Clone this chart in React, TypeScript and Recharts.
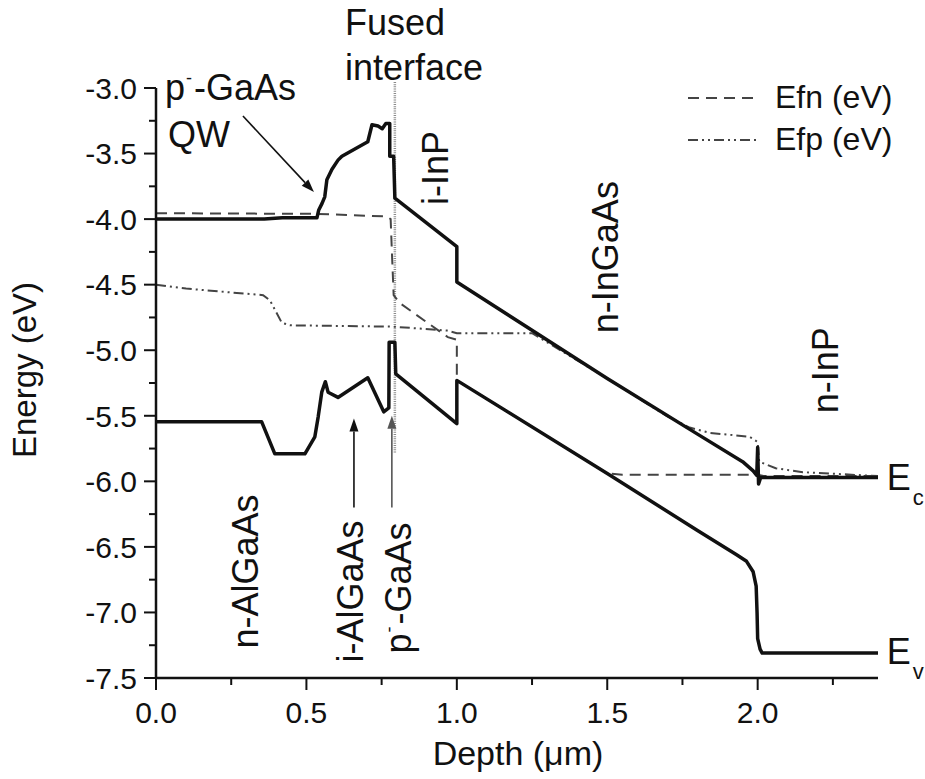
import React from 'react';
import {
  LineChart,
  Line,
  XAxis,
  YAxis,
  ReferenceLine,
  ReferenceDot,
  Legend,
} from 'recharts';

// band edges and quasi-Fermi levels, [depth (um), energy (eV)]
const ecBand: [number, number][] = [
  [0, -4.0], [0.36, -4.0], [0.42, -3.99], [0.535, -3.99], [0.541, -3.93],
  [0.552, -3.88], [0.561, -3.83], [0.568, -3.7], [0.585, -3.62], [0.605, -3.55],
  [0.618, -3.52], [0.704, -3.41], [0.718, -3.28], [0.738, -3.29], [0.752, -3.31],
  [0.764, -3.27], [0.777, -3.27], [0.777, -3.52], [0.79, -3.52], [0.794, -3.84],
  [1.0, -4.21], [1.0, -4.48], [1.5, -5.215], [1.8, -5.64], [1.95, -5.85],
  [1.985, -5.92], [1.997, -5.955], [2.0, -5.74], [2.003, -6.02], [2.01, -5.97],
  [2.4, -5.97],
];

const evBand: [number, number][] = [
  [0, -5.545], [0.351, -5.545], [0.395, -5.79], [0.495, -5.79], [0.528, -5.66],
  [0.539, -5.51], [0.551, -5.32], [0.563, -5.24], [0.572, -5.32], [0.605, -5.36],
  [0.704, -5.21], [0.757, -5.47], [0.774, -5.44], [0.775, -4.94], [0.794, -4.94],
  [0.797, -5.18], [1.0, -5.56], [1.0, -5.23], [1.5, -5.94], [1.8, -6.375],
  [1.93, -6.56], [1.963, -6.61], [1.985, -6.69], [1.995, -6.8], [1.998, -7.0],
  [2.0, -7.2], [2.008, -7.28], [2.015, -7.31], [2.4, -7.31],
];

const efn: [number, number][] = [
  [0, -3.955], [0.53, -3.96], [0.768, -3.98], [0.78, -4.0], [0.785, -4.3],
  [0.79, -4.58], [0.81, -4.64], [0.97, -4.9], [1.0, -4.92], [1.0, -5.23],
  [1.5, -5.94], [1.55, -5.95], [2.0, -5.95], [2.02, -5.96], [2.4, -5.96],
];

const efp: [number, number][] = [
  [0, -4.5], [0.1, -4.53], [0.356, -4.58], [0.379, -4.62], [0.418, -4.79],
  [0.445, -4.81], [0.787, -4.82], [0.967, -4.85], [1.0, -4.87], [1.25, -4.87],
  [1.5, -5.215], [1.7, -5.505], [1.774, -5.59], [1.84, -5.63], [1.973, -5.66],
  [2.0, -5.7], [2.005, -5.85], [2.06, -5.9], [2.15, -5.93], [2.4, -5.96],
];

const xTicks = [0, 0.25, 0.5, 0.75, 1.0, 1.25, 1.5, 1.75, 2.0, 2.25];
const yTicks = [
  -7.5, -7.25, -7.0, -6.75, -6.5, -6.25, -6.0, -5.75, -5.5, -5.25,
  -5.0, -4.75, -4.5, -4.25, -4.0, -3.75, -3.5, -3.25, -3.0,
];

const FUSED_DEPTH = 0.794;

const FONT = '"Liberation Sans", Arial, Helvetica, sans-serif';
const INK = '#111';

const toRows = (pts: [number, number][]) => pts.map(([x, y]) => ({ x, y }));

const isMajor = (v: number) => Math.abs(v * 2 - Math.round(v * 2)) < 1e-6;

const YTick = (props: any) => {
  const { x, y, payload } = props;
  const v = payload.value as number;
  const major = isMajor(v);
  return (
    <g>
      <line x1={x - (major ? 12 : 7)} x2={x} y1={y} y2={y} stroke={INK} strokeWidth={2} />
      {major && (
        <text x={x - 19} y={y} dy="0.36em" textAnchor="end" fontSize={30} fontFamily={FONT} fill={INK}>
          {v.toFixed(1)}
        </text>
      )}
    </g>
  );
};

const XTick = (props: any) => {
  const { x, y, payload } = props;
  const v = payload.value as number;
  const major = isMajor(v);
  return (
    <g>
      <line x1={x} x2={x} y1={y} y2={y + (major ? 12 : 7)} stroke={INK} strokeWidth={2} />
      {major && (
        <text x={x} y={y + 45} textAnchor="middle" fontSize={30} fontFamily={FONT} fill={INK}>
          {v.toFixed(1)}
        </text>
      )}
    </g>
  );
};

// arrow shaft + head, drawn between the scaled segment ends
const arrowShape = (color: string) => (p: any) => {
  const { x1, y1, x2, y2 } = p;
  const a = Math.atan2(y2 - y1, x2 - x1);
  const len = 13;
  const w = 4.5;
  const bx = x2 - len * Math.cos(a);
  const by = y2 - len * Math.sin(a);
  const nx = -Math.sin(a) * w;
  const ny = Math.cos(a) * w;
  return (
    <g>
      <line x1={x1} y1={y1} x2={bx} y2={by} stroke={color} strokeWidth={1.6} />
      <polygon points={`${x2},${y2} ${bx + nx},${by + ny} ${bx - nx},${by - ny}`} fill={color} />
    </g>
  );
};

type Note = {
  d: number;
  e: number;
  text: string;
  sup?: string;
  rest?: string;
  rotate?: boolean;
  sub?: string;
};

const notes: Note[] = [
  { d: 0.628, e: -2.595, text: 'Fused' },
  { d: 0.628, e: -2.939, text: 'interface' },
  { d: 0.03, e: -3.092, text: 'p', sup: '-', rest: '-GaAs' },
  { d: 0.04, e: -3.45, text: 'QW' },
  { d: 0.97, e: -3.893, text: 'i-InP', rotate: true },
  { d: 1.535, e: -4.87, text: 'n-InGaAs', rotate: true },
  { d: 2.266, e: -5.481, text: 'n-InP', rotate: true },
  { d: 0.339, e: -7.275, text: 'n-AlGaAs', rotate: true },
  { d: 0.688, e: -7.382, text: 'i-AlGaAs', rotate: true },
  { d: 0.847, e: -7.313, text: 'p', sup: '-', rest: '-GaAs', rotate: true },
  { d: 2.429, e: -6.069, text: 'E', sub: 'c' },
  { d: 2.429, e: -7.397, text: 'E', sub: 'v' },
];

const noteShape = (n: Note) => (p: any) => {
  const { cx, cy } = p;
  return (
    <text
      x={cx}
      y={cy}
      fontSize={36}
      fontFamily={FONT}
      fill={INK}
      transform={n.rotate ? `rotate(-90 ${cx} ${cy})` : undefined}
    >
      {n.text}
      {n.sup && (
        <tspan dy={-16} dx={1} fontSize={18}>
          {n.sup}
        </tspan>
      )}
      {n.rest && <tspan dy={n.sup ? 16 : 0} dx={n.sup ? 2 : 0}>{n.rest}</tspan>}
      {n.sub && (
        <tspan dy={15} dx={2} fontSize={22}>
          {n.sub}
        </tspan>
      )}
    </text>
  );
};

const LegendBox = () => (
  <svg width={230} height={84} style={{ display: 'block' }}>
    <line x1={3} x2={72} y1={20} y2={20} stroke="#444" strokeWidth={2} strokeDasharray="11 7" />
    <text x={90} y={30} fontSize={32} fontFamily={FONT} fill={INK}>
      Efn (eV)
    </text>
    <line x1={3} x2={72} y1={62} y2={62} stroke="#444" strokeWidth={2} strokeDasharray="10 4 2 4 2 4" />
    <text x={90} y={72} fontSize={32} fontFamily={FONT} fill={INK}>
      Efp (eV)
    </text>
  </svg>
);

export default function App() {
  return (
    <div style={{ position: 'absolute', left: 0, top: 0, background: '#fff' }}>
      <LineChart width={925} height={779} margin={{ top: 88, right: 47, bottom: 0, left: 0 }}>
        <XAxis
          type="number"
          dataKey="x"
          domain={[0, 2.4]}
          ticks={xTicks}
          interval={0}
          height={101}
          tickSize={0}
          tickMargin={0}
          tickLine={false}
          tick={<XTick />}
          axisLine={{ stroke: INK, strokeWidth: 2.5 }}
          label={{
            content: (p: any) => {
              const vb = p.viewBox;
              return (
                <text x={vb.x + vb.width / 2 + 1} y={vb.y + 87} textAnchor="middle" fontSize={34} fontFamily={FONT} fill={INK}>
                  Depth (μm)
                </text>
              );
            },
          }}
        />
        <YAxis
          type="number"
          dataKey="y"
          domain={[-7.5, -3.0]}
          ticks={yTicks}
          interval={0}
          width={156}
          tickSize={0}
          tickMargin={0}
          tickLine={false}
          tick={<YTick />}
          axisLine={{ stroke: INK, strokeWidth: 2.5 }}
          label={{
            content: (p: any) => {
              const vb = p.viewBox;
              const cx = vb.x + 36;
              const cy = vb.y + vb.height / 2 - 13;
              return (
                <text x={cx} y={cy} textAnchor="middle" fontSize={33} fontFamily={FONT} fill={INK} transform={`rotate(-90 ${cx} ${cy})`}>
                  Energy (eV)
                </text>
              );
            },
          }}
        />
        <Legend
          layout="vertical"
          align="center"
          verticalAlign="middle"
          wrapperStyle={{ left: 685, top: 78, width: 230 }}
          content={() => <LegendBox />}
        />
        <ReferenceLine
          segment={[{ x: FUSED_DEPTH, y: -2.954 }, { x: FUSED_DEPTH, y: -5.78 }]}
          stroke="#8a8a8a"
          strokeWidth={2.5}
          strokeDasharray="1 1.2"
          ifOverflow="visible"
        />
        <Line
          data={toRows(efn)}
          dataKey="y"
          type="linear"
          stroke="#444"
          strokeWidth={2}
          strokeDasharray="11 7"
          dot={false}
          isAnimationActive={false}
        />
        <Line
          data={toRows(efp)}
          dataKey="y"
          type="linear"
          stroke="#444"
          strokeWidth={2}
          strokeDasharray="10 4 2 4 2 4"
          dot={false}
          isAnimationActive={false}
        />
        <Line
          data={toRows(ecBand)}
          dataKey="y"
          type="linear"
          stroke={INK}
          strokeWidth={3.5}
          strokeLinejoin="round"
          dot={false}
          isAnimationActive={false}
        />
        <Line
          data={toRows(evBand)}
          dataKey="y"
          type="linear"
          stroke={INK}
          strokeWidth={3.5}
          strokeLinejoin="round"
          dot={false}
          isAnimationActive={false}
        />
        <ReferenceLine
          segment={[{ x: 0.289, y: -3.214 }, { x: 0.525, y: -3.794 }]}
          ifOverflow="visible"
          shape={arrowShape(INK)}
        />
        <ReferenceLine
          segment={[{ x: 0.658, y: -6.2 }, { x: 0.658, y: -5.52 }]}
          ifOverflow="visible"
          shape={arrowShape(INK)}
        />
        <ReferenceLine
          segment={[{ x: 0.784, y: -6.2 }, { x: 0.784, y: -5.5 }]}
          ifOverflow="visible"
          shape={arrowShape('#555')}
        />
        {notes.map((n, i) => (
          <ReferenceDot key={i} x={n.d} y={n.e} r={0} ifOverflow="visible" shape={noteShape(n)} />
        ))}
      </LineChart>
    </div>
  );
}
